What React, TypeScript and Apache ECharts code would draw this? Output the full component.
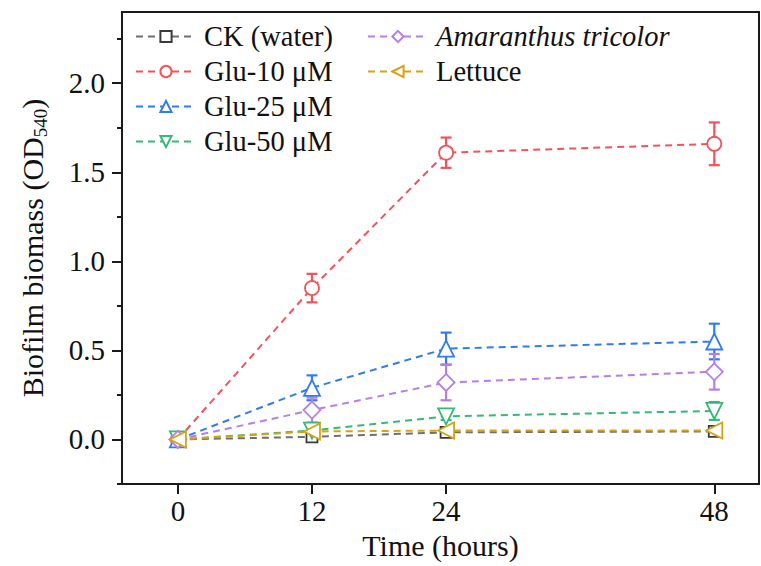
import React, { useEffect, useRef } from "react";
import * as echarts from "echarts";

const times = [0, 12, 24, 48];
const seriesNames = ["CK (water)", "Glu-10 μM", "Glu-25 μM", "Glu-50 μM", "Amaranthus tricolor", "Lettuce"];
const ckVals = [0, 0.015, 0.04, 0.045];
const ckErr = [0, 0.015, 0.01, 0.012];
const glu10Vals = [0, 0.85, 1.61, 1.66];
const glu10Err = [0, 0.08, 0.085, 0.12];
const glu25Vals = [0, 0.29, 0.51, 0.55];
const glu25Err = [0, 0.07, 0.09, 0.1];
const glu50Vals = [0, 0.05, 0.13, 0.16];
const glu50Err = [0, 0.01, 0.02, 0.05];
const amarVals = [0, 0.165, 0.32, 0.38];
const amarErr = [0, 0.07, 0.1, 0.1];
const lettuceVals = [0, 0.045, 0.05, 0.05];
const lettuceErr = [0, 0.01, 0.01, 0.012];
const xTicks = [0, 12, 24, 48];
const yLabels = [0, 0.5, 1.0, 1.5, 2.0];
const yMinorTicks = [-0.25, 0.25, 0.75, 1.25, 1.75, 2.25];

const FONT = "'Liberation Serif', 'Times New Roman', serif";

const seriesDefs = [
  { name: seriesNames[0], vals: ckVals, err: ckErr, color: "#6f6f6f", marker: "#3a3a3a", symbol: "rect", size: 11, rotate: 0 },
  { name: seriesNames[1], vals: glu10Vals, err: glu10Err, color: "#f4525a", marker: "#f4525a", symbol: "circle", size: 14, rotate: 0 },
  { name: seriesNames[2], vals: glu25Vals, err: glu25Err, color: "#2f7cf0", marker: "#2f7cf0", symbol: "triangle", size: 16, rotate: 0 },
  { name: seriesNames[3], vals: glu50Vals, err: glu50Err, color: "#36b877", marker: "#36b877", symbol: "triangle", size: 16, rotate: 180 },
  { name: seriesNames[4], vals: amarVals, err: amarErr, color: "#b67ee9", marker: "#b67ee9", symbol: "diamond", size: 17, rotate: 0 },
  { name: seriesNames[5], vals: lettuceVals, err: lettuceErr, color: "#d6a216", marker: "#d6a216", symbol: "triangle", size: 16, rotate: 90 },
];

export default function App() {
  const ref = useRef<HTMLDivElement>(null);
  useEffect(() => {
    if (!ref.current) return;
    const chart = echarts.init(ref.current, null, { renderer: "svg" });

    const lineSeries = seriesDefs.map((d, i) => ({
      type: "line",
      name: d.name,
      data: times.map((t, j) => [t, d.vals[j]]),
      symbol: d.symbol,
      symbolSize: d.size,
      symbolRotate: d.rotate,
      showAllSymbol: true,
      z: 3 + i,
      lineStyle: { color: d.color, width: 2, type: [7, 5] },
      itemStyle: { color: "#ffffff", borderColor: d.marker, borderWidth: 1.8 },
      emphasis: { disabled: true },
    }));

    const errSeries = seriesDefs.map((d) => ({
      type: "custom",
      name: "err-" + d.name,
      z: 2,
      data: times.map((t, j) => [t, d.vals[j], d.err[j]]),
      renderItem: (params: any, api: any) => {
        const x = api.value(0);
        const y = api.value(1);
        const e = api.value(2);
        if (!e || e <= 0.011) return { type: "group", children: [] };
        const top = api.coord([x, y + e]);
        const bot = api.coord([x, y - e]);
        const w = 5.5;
        const style = { stroke: d.color, lineWidth: 2.2 };
        return {
          type: "group",
          children: [
            { type: "line", shape: { x1: top[0], y1: top[1], x2: bot[0], y2: bot[1] }, style },
            { type: "line", shape: { x1: top[0] - w, y1: top[1], x2: top[0] + w, y2: top[1] }, style },
            { type: "line", shape: { x1: bot[0] - w, y1: bot[1], x2: bot[0] + w, y2: bot[1] }, style },
          ],
        };
      },
    }));

    const legendText = {
      fontFamily: FONT,
      fontSize: 28.5,
      color: "#111",
      lineHeight: 29,
      padding: [0, 0, 0, 3],
      rich: {
        i: { fontFamily: FONT, fontSize: 28.5, fontStyle: "italic", color: "#111", lineHeight: 29 },
      },
    };

    const option: any = {
      animation: false,
      backgroundColor: "#ffffff",
      grid: { left: 122, right: 2, top: 12, bottom: 82, show: true, borderColor: "#1a1a1a", borderWidth: 2, backgroundColor: "transparent" },
      legend: [
        {
          data: seriesNames.slice(0, 4),
          orient: "vertical",
          left: 130,
          top: 17,
          itemWidth: 60,
          itemHeight: 14,
          itemGap: 6,
          textStyle: legendText,
          selectedMode: false,
        },
        {
          data: seriesNames.slice(4),
          orient: "vertical",
          left: 362,
          top: 17,
          itemWidth: 60,
          itemHeight: 14,
          itemGap: 6,
          textStyle: legendText,
          selectedMode: false,
          formatter: (n: string) => (n === "Amaranthus tricolor" ? `{i|${n}}` : n),
        },
      ],
      xAxis: {
        type: "value",
        min: -5,
        max: 52,
        name: "Time (hours)",
        nameLocation: "middle",
        nameGap: 46,
        nameTextStyle: { fontFamily: FONT, fontSize: 30, color: "#111" },
        axisLine: { show: true, onZero: false, lineStyle: { color: "#1a1a1a", width: 2 } },
        axisTick: { show: true, inside: false, length: 10, customValues: xTicks, lineStyle: { color: "#1a1a1a", width: 2 } },
        axisLabel: { customValues: xTicks, margin: 12, fontFamily: FONT, fontSize: 29, color: "#111" },
        splitLine: { show: false },
      },
      yAxis: [
        {
          type: "value",
          min: -0.25,
          max: 2.4,
          name: "{a|Biofilm biomass (OD}{s|540}{a|)}",
          nameLocation: "middle",
          nameGap: 73,
          nameTextStyle: {
            fontFamily: FONT,
            color: "#111",
            rich: {
              a: { fontFamily: FONT, fontSize: 30, color: "#111", lineHeight: 34 },
              s: { fontFamily: FONT, fontSize: 19, color: "#111", lineHeight: 19, padding: [16, 0, 0, 0] },
            },
          },
          axisLine: { show: true, onZero: false, lineStyle: { color: "#1a1a1a", width: 2 } },
          axisTick: { show: true, inside: false, length: 10, customValues: yLabels, lineStyle: { color: "#1a1a1a", width: 2 } },
          axisLabel: {
            customValues: yLabels,
            margin: 17,
            fontFamily: FONT,
            fontSize: 29,
            color: "#111",
            formatter: (v: number) => v.toFixed(1),
          },
          splitLine: { show: false },
        },
        {
          type: "value",
          min: -0.25,
          max: 2.4,
          position: "left",
          axisLine: { show: false, onZero: false },
          axisTick: { show: true, inside: false, length: 5, customValues: yMinorTicks, lineStyle: { color: "#1a1a1a", width: 2 } },
          axisLabel: { show: false },
          splitLine: { show: false },
        },
      ],
      series: [...errSeries, ...lineSeries],
    };

    chart.setOption(option);
    return () => chart.dispose();
  }, []);

  return <div ref={ref} style={{ position: "fixed", left: 0, top: 0, width: 761, height: 566 }} />;
}
